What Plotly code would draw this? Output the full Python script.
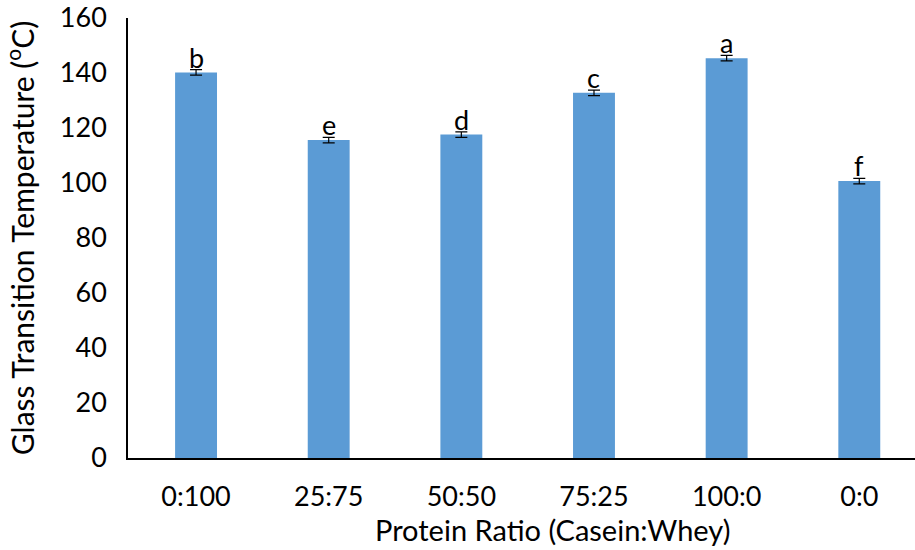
import plotly.graph_objects as go

# Glass transition temperature by casein:whey protein ratio
ratios = ["0:100", "25:75", "50:50", "75:25", "100:0", "0:0"]
tg_values = [140.2, 115.6, 117.6, 132.8, 145.4, 100.7]
tg_errors = [1.0, 1.0, 1.0, 1.0, 1.0, 1.0]
sig_letters = ["b", "e", "d", "c", "a", "f"]
y_ticks = [0, 20, 40, 60, 80, 100, 120, 140, 160]

FONT = "Lato"
positions = list(range(len(ratios)))

fig = go.Figure()
fig.add_trace(go.Bar(
    x=positions,
    y=tg_values,
    width=0.316,
    marker=dict(color="#5B9BD5", line=dict(width=0)),
    error_y=dict(type="data", array=tg_errors, visible=True,
                 color="black", thickness=1.2, width=6),
))

for xi, v, e, letter in zip(positions, tg_values, tg_errors, sig_letters):
    fig.add_annotation(x=xi, y=v + e, text=letter, showarrow=False,
                       yanchor="bottom", yshift=-6,
                       font=dict(family=FONT, size=27, color="black"))

# x-axis title, centred under the full plot width (plot continues past the right edge)
fig.add_annotation(xref="paper", yref="paper", x=0.539, y=0,
                   yshift=-52, xanchor="center", yanchor="top",
                   text="Protein Ratio (Casein:Whey)", showarrow=False,
                   font=dict(family=FONT, size=29, color="black"))

fig.update_layout(
    width=915, height=550,
    margin=dict(l=128, r=0, t=18, b=92),
    paper_bgcolor="white", plot_bgcolor="white",
    showlegend=False,
    font=dict(family=FONT, size=27, color="black"),
    xaxis=dict(
        range=[-0.513, 5.42],
        tickmode="array", tickvals=positions, ticktext=ratios,
        showline=True, linecolor="black", linewidth=1.5,
        showgrid=False, zeroline=False, ticks="",
        ticklabelstandoff=14,
        tickfont=dict(family=FONT, size=27),
    ),
    yaxis=dict(
        range=[0, 160],
        tickmode="array", tickvals=y_ticks,
        showline=True, linecolor="black", linewidth=1.5,
        showgrid=False, zeroline=False, ticks="",
        ticklabelstandoff=14,
        tickfont=dict(family=FONT, size=27),
        title=dict(text="Glass Transition Temperature (<sup>o</sup>C)", standoff=17,
                   font=dict(family=FONT, size=30)),
    ),
)

fig.write_html("out.html")
